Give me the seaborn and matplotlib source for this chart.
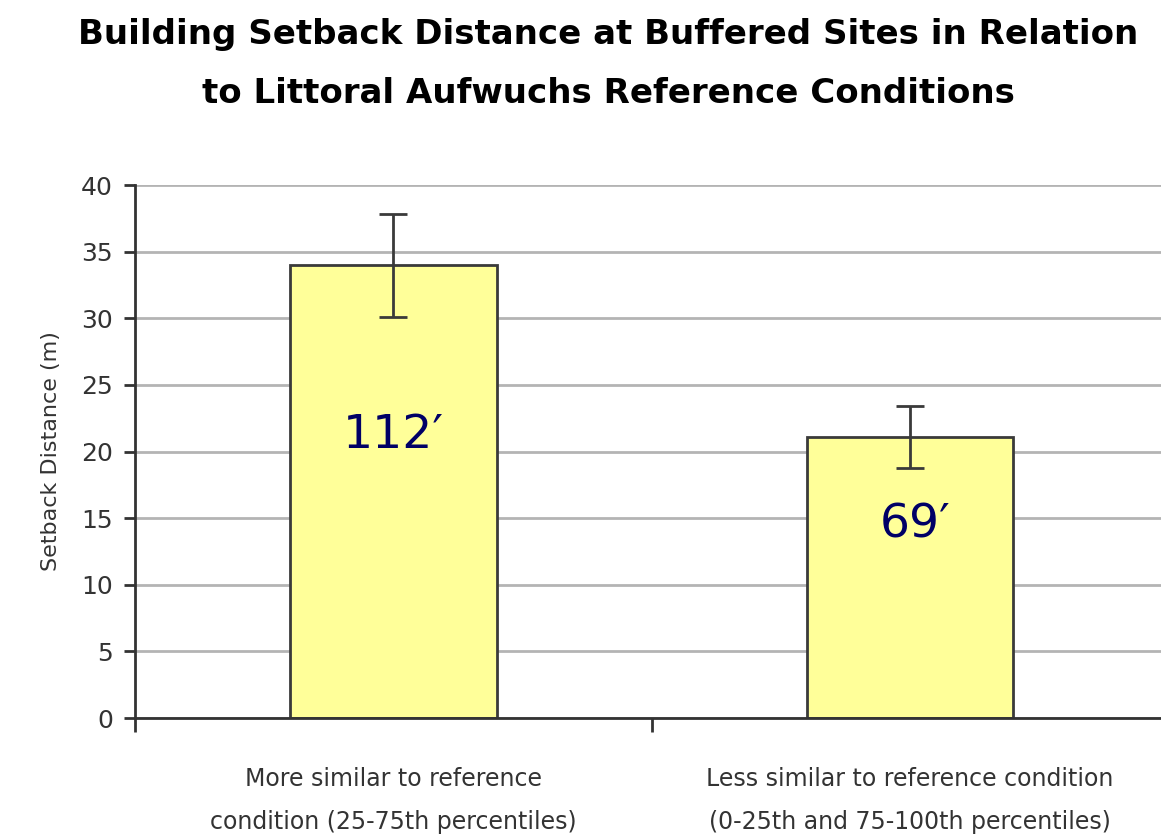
import numpy as np
import pandas as pd
import seaborn as sns
import matplotlib
matplotlib.use("Agg")
import matplotlib.pyplot as plt

# data
categories = ["More similar to reference\ncondition (25-75th percentiles)",
              "Less similar to reference condition\n(0-25th and 75-100th percentiles)"]
setback_m = [34.0, 21.1]
err_low = [30.1, 18.8]
err_high = [37.8, 23.4]
feet_labels = ["112\u2032", "69\u2032"]
label_y = [21.2, 14.5]
label_dx = [0.0, 0.01]

sns.set_theme(style="white")
plt.rcParams["font.family"] = ["DejaVu Sans"]

df = pd.DataFrame({"cat": categories, "val": setback_m})

fig = plt.figure(figsize=(11.61, 8.4), dpi=100)
ax = fig.add_axes([0.1163, 0.1452, 0.89, 0.6345])

ax.yaxis.grid(True, color="#b4b4b4", linewidth=2)
ax.set_axisbelow(True)

sns.barplot(data=df, x="cat", y="val", width=0.4, color="#ffff99",
            edgecolor="#3a3a3a", linewidth=2, saturation=1, ax=ax, zorder=2)

yerr = [np.array(setback_m) - np.array(err_low), np.array(err_high) - np.array(setback_m)]
ax.errorbar(range(len(categories)), setback_m, yerr=yerr, fmt="none",
            ecolor="#3a3a3a", elinewidth=2, capsize=10, capthick=2, zorder=3)

for i, (t, yy) in enumerate(zip(feet_labels, label_y)):
    ax.text(i + label_dx[i], yy, t, ha="center", va="center", fontsize=34,
            color="#000066", zorder=4)

ax.set_xlim(-0.5, 1.5)
ax.set_ylim(0, 40)
ax.set_yticks(range(0, 41, 5))
ax.tick_params(axis="y", labelsize=18, labelcolor="#333333", length=8, width=2,
               color="#333333", direction="out", left=True, pad=8)
ax.tick_params(axis="x", which="major", length=0, labelsize=17, labelcolor="#333333", pad=35)
for lbl in ax.get_xticklabels():
    lbl.set_linespacing(2.0)
ax.set_xticks([-0.5, 0.5, 1.5], minor=True)
ax.tick_params(axis="x", which="minor", length=10, width=2, color="#333333", bottom=True)

for s in ["top", "right"]:
    ax.spines[s].set_visible(False)
for s in ["left", "bottom"]:
    ax.spines[s].set_color("#333333")
    ax.spines[s].set_linewidth(2)

ax.set_xlabel("")
ax.set_ylabel("Setback Distance (m)", fontsize=16, color="#333333", labelpad=14)

fig.text(0.524, 0.978, "Building Setback Distance at Buffered Sites in Relation\nto Littoral Aufwuchs Reference Conditions",
         ha="center", va="top", fontsize=24.5, fontweight="bold", color="black",
         linespacing=2.0)

fig.savefig("out.png", dpi=100)
